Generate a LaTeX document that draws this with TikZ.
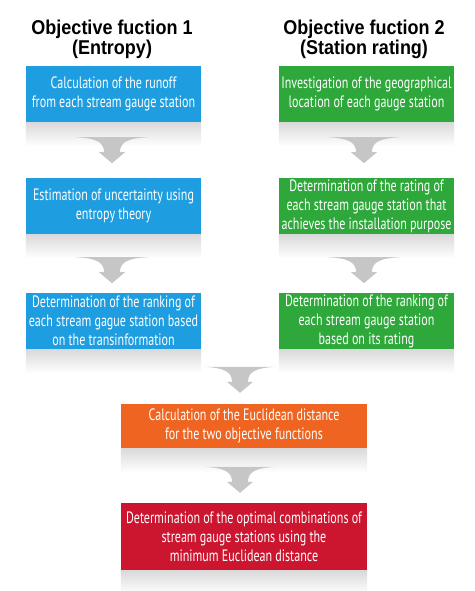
\documentclass[tikz,border=0pt]{standalone}
\usepackage{fontspec}
\setmainfont{PT Sans}
\newfontfamily\titlefont[FakeStretch=0.9]{Liberation Sans}
\newfontfamily\boxfont[FakeStretch=0.73]{PT Sans}
\usetikzlibrary{calc}
\definecolor{cblue}{RGB}{30,158,224}
\definecolor{cgreen}{RGB}{46,168,58}
\definecolor{corange}{RGB}{238,100,32}
\definecolor{cred}{RGB}{204,22,48}
\definecolor{carrow}{RGB}{198,198,198}
\tikzset{
  x=1pt,y=1pt,
  titletext/.style={align=center,font=\titlefont\bfseries\fontsize{20}{20}\selectfont,text=black,inner sep=0pt},
  stepbox/.style={rectangle,align=center,text=white,inner sep=1pt,
    font=\boxfont\fontsize{16.5}{19}\selectfont,minimum width=175,minimum height=56},
  widebox/.style={stepbox,minimum width=246},
  pics/bigarrow/.style={code={
    \fill[carrow] (-36,0) -- (36,0) .. controls (14,-1) and (8,-6) .. (8,-15)
      -- (13,-15) -- (0,-26) -- (-13,-15) -- (-8,-15)
      .. controls (-8,-6) and (-14,-1) .. cycle;
  }}
}
\newcommand{\boxshadow}[1]{\shade[top color=black!15,bottom color=white]
  (#1.south west) rectangle ($(#1.south east)+(0,-24)$);}
\begin{document}
\begin{tikzpicture}
\useasboundingbox[fill=white] (0,0) rectangle (474,-591);
% titles
\node[titletext] (t1) at (112,-39) {Objective fuction 1\\(Entropy)};
\node[titletext] (t2) at (364,-39) {Objective fuction 2\\(Station rating)};
% boxes
\node[stepbox,fill=cblue] (b1) at (113.5,-94) {Calculation of the runoff\\from each stream gauge station};
\node[stepbox,fill=cblue] (b2) at (113.5,-206) {Estimation of uncertainty using\\entropy theory};
\node[stepbox,fill=cblue] (b3) at (113.5,-321) {Determination of the ranking of\\each stream gague station based\\on the transinformation};
\node[stepbox,fill=cgreen] (g1) at (366.5,-94) {Investigation of the geographical\\location of each gauge station};
\node[stepbox,fill=cgreen] (g2) at (366.5,-206) {Determination of the rating of\\each stream gauge station that\\achieves the installation purpose};
\node[stepbox,fill=cgreen] (g3) at (366.5,-321) {Determination of the ranking of\\each stream gauge station\\based on its rating};
\node[widebox,fill=corange,minimum height=44] (o1) at (244,-426) {Calculation of the Euclidean distance\\for the two objective functions};
\node[widebox,fill=cred,minimum height=67] (r1) at (244,-536.5) {Determination of the optimal combinations of\\stream gauge stations using the\\minimum Euclidean distance};
% shadows
\foreach \n in {b1,b2,b3,g1,g2,g3,o1,r1} {\boxshadow{\n}}
% arrows
\coordinate (a1) at ($(b1.south)+(-1.5,-15)$);
\coordinate (a2) at ($(b2.south)+(-1.5,-23)$);
\coordinate (a3) at ($(g1.south)+(-2.5,-15)$);
\coordinate (a4) at ($(g2.south)+(-2.5,-23)$);
\coordinate (a5) at ($(o1.north)+(-4,37)$);
\coordinate (a6) at ($(r1.north)+(-4,36)$);
\foreach \a in {a1,a2,a3,a4,a5,a6} {\pic at (\a) {bigarrow};}
\end{tikzpicture}
\end{document}
